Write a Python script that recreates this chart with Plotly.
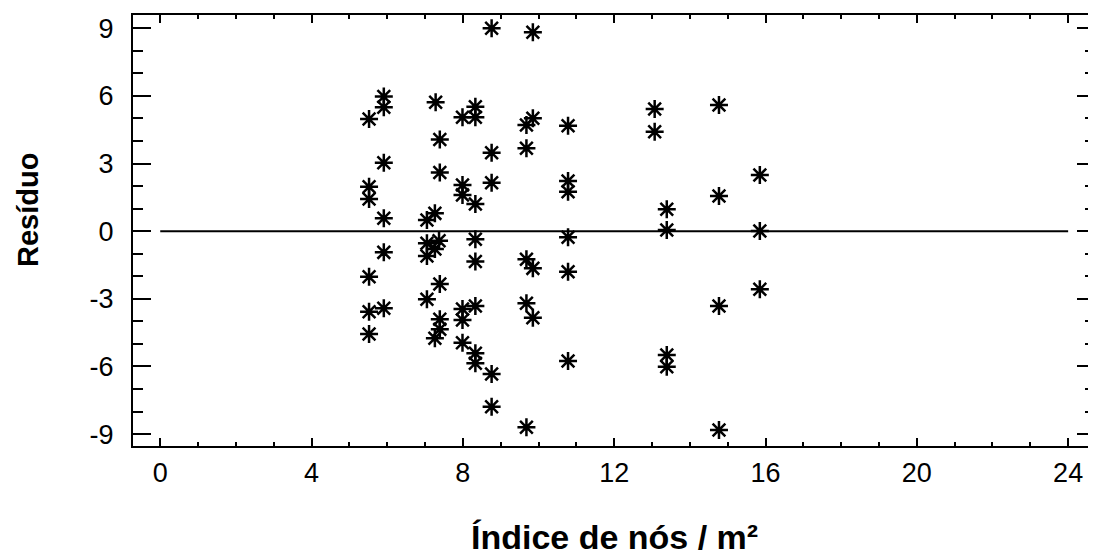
import plotly.graph_objects as go

# Índice de nós / m² (x) and Resíduo (y) for each observation
indice = [
    5.52, 5.52, 5.52, 5.52, 5.52, 5.52,
    5.91, 5.91, 5.91, 5.91, 5.91, 5.91,
    7.28, 7.39, 7.39, 7.05, 7.26, 7.05, 7.37, 7.26, 7.05, 7.39, 7.05, 7.39, 7.39, 7.26,
    7.99, 7.99, 7.99, 7.99, 7.99, 7.99,
    8.33, 8.33, 8.33, 8.33, 8.33, 8.33, 8.33, 8.33,
    8.76, 8.76, 8.76, 8.76, 8.76,
    9.85, 9.85, 9.68, 9.68, 9.68, 9.85, 9.68, 9.85, 9.68,
    10.78, 10.78, 10.78, 10.78, 10.78, 10.78,
    13.07, 13.07,
    13.39, 13.39, 13.39, 13.39,
    14.77, 14.77, 14.77, 14.77,
    15.85, 15.85, 15.85,
]
residuo = [
    4.98, 1.97, 1.43, -2.02, -3.57, -4.56,
    5.97, 5.50, 3.04, 0.57, -0.94, -3.42,
    5.72, 4.07, 2.60, 0.50, 0.79, -0.54, -0.42, -0.79, -1.10, -2.34, -3.02, -3.91, -4.35, -4.75,
    5.05, 2.05, 1.61, -3.45, -3.94, -4.95,
    5.52, 5.05, 1.21, -0.36, -1.35, -3.32, -5.42, -5.86,
    9.00, 3.48, 2.15, -6.34, -7.79,
    8.82, 5.01, 4.71, 3.68, -1.25, -1.65, -3.20, -3.84, -8.70,
    4.68, 2.23, 1.75, -0.27, -1.80, -5.76,
    5.42, 4.41,
    0.97, 0.05, -5.49, -6.01,
    5.60, 1.56, -3.32, -8.82,
    2.49, 0.01, -2.58,
]

zero_line_x = [0, 24]
zero_line_y = [0, 0]

x_ticks = [0, 4, 8, 12, 16, 20, 24]
y_ticks = [-9, -6, -3, 0, 3, 6, 9]

x_title = "Índice de nós / m²"
y_title = "Resíduo"

sans = "Liberation Sans, Arial, sans-serif"

fig = go.Figure()
fig.add_trace(go.Scatter(
    x=zero_line_x, y=zero_line_y, mode="lines",
    line=dict(color="black", width=2), hoverinfo="skip", showlegend=False,
))
fig.add_trace(go.Scatter(
    x=indice, y=residuo, mode="markers",
    marker=dict(symbol="asterisk-open", size=15, color="black",
                line=dict(color="black", width=2.5)),
    showlegend=False,
))

# the page body adds an 8px offset, so the figure is sized to fit the window
fig.update_layout(
    width=1088, height=550,
    margin=dict(l=125, r=1, t=7, b=112, autoexpand=False),
    paper_bgcolor="white", plot_bgcolor="white",
    showlegend=False,
    annotations=[
        dict(text="<b>%s</b>" % x_title, xref="paper", yref="paper",
             x=0.5, y=-0.211, xanchor="center", yanchor="middle",
             showarrow=False, font=dict(family=sans, size=34, color="black")),
        dict(text="<b>%s</b>" % y_title, xref="paper", yref="paper",
             x=-0.109, y=0.548, xanchor="center", yanchor="middle",
             textangle=-90, showarrow=False,
             font=dict(family=sans, size=29, color="black")),
    ],
)
fig.update_xaxes(
    range=[-0.72, 24.71], automargin=False,
    tickvals=x_ticks, ticktext=[str(v) for v in x_ticks],
    ticks="inside", ticklen=8, tickwidth=2, tickcolor="black",
    minor=dict(dtick=1, ticks="inside", ticklen=4, tickwidth=2, tickcolor="black"),
    showline=True, linecolor="black", linewidth=2, mirror="ticks",
    showgrid=False, zeroline=False,
    tickfont=dict(family=sans, size=27, color="black"),
    ticklabelstandoff=2,
)
fig.update_yaxes(
    range=[-9.53, 9.59], automargin=False,
    tickvals=y_ticks, ticktext=[str(v) for v in y_ticks],
    ticks="inside", ticklen=18, tickwidth=2, tickcolor="black",
    minor=dict(dtick=1, ticks="inside", ticklen=10, tickwidth=2, tickcolor="black"),
    showline=True, linecolor="black", linewidth=2, mirror="ticks",
    showgrid=False, zeroline=False,
    tickfont=dict(family=sans, size=27, color="black"),
    ticklabelstandoff=12,
)

fig.write_html("out.html")
